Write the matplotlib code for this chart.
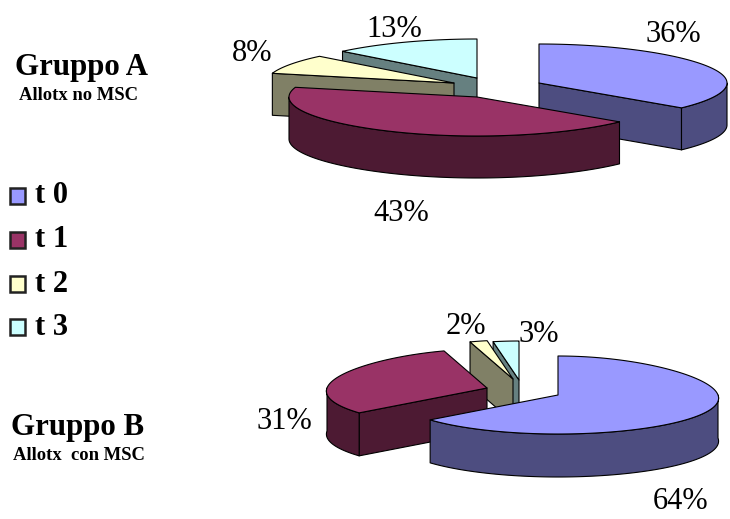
import numpy as np
import matplotlib
matplotlib.use("Agg")
import matplotlib.pyplot as plt
from matplotlib.patches import Polygon, Rectangle

plt.rcParams['font.family'] = ['Liberation Serif', 'DejaVu Serif']

# Percentages for each time point
categories = ["t 0", "t 1", "t 2", "t 3"]
gruppo_a = [36, 43, 8, 13]
gruppo_b = [64, 31, 2, 3]

top_colors = ["#9999FF", "#993366", "#FFFFCC", "#CCFFFF"]
side_colors = ["#4D4D80", "#4D1A33", "#808066", "#668080"]

# Screen placement of the two exploded pies (pixels, y grows downwards)
A_LAYOUT = dict(apex=[(539, 83), (477, 97), (454, 83), (477, 78)], rx=188, ry=39, depth=42,
                order=[3, 2, 0, 1], taper=(0.0, -0.04))
B_LAYOUT = dict(apex=[(558, 395), (487, 388), (513, 379), (519, 380)], rx=160, ry=39, depth=43,
                order=[3, 2, 1, 0], taper=(0.09, -0.05))
A_LABELS = [(673, 42), (401, 221), (252, 61), (394, 37)]
B_LABELS = [(681, 509), (284, 429), (466, 334), (539, 342)]


def rim_points(apex, theta, rx, ry, taper):
    """Rim positions for clockwise angles (degrees from 12 o'clock)."""
    t = np.radians(theta)
    u = -np.cos(t)
    scale = 1 + taper[0] * u + taper[1] * u ** 2
    return apex[0] + rx * np.sin(t) * scale, apex[1] + ry * u


def draw_pie(ax, values, layout, label_pos):
    total = sum(values)
    edges = np.concatenate([[0], np.cumsum(values)]) / total * 360
    rx, ry, depth, taper = layout["rx"], layout["ry"], layout["depth"], layout["taper"]
    style = dict(edgecolor="black", linewidth=0.8, joinstyle="round")

    for i in layout["order"]:
        a0, a1 = edges[i], edges[i + 1]
        apex = layout["apex"][i]

        # Cut walls that turn towards the viewer
        for ang, sign in ((a0, -1), (a1, 1)):
            x, y = rim_points(apex, np.array([ang]), rx, ry, taper)
            dx = x[0] - apex[0]
            if sign * dx > 1e-6:
                pts = [apex, (x[0], y[0]), (x[0], y[0] + depth), (apex[0], apex[1] + depth)]
                ax.add_patch(Polygon(pts, closed=True, facecolor=side_colors[i], **style))

        # Outer rim on the near half of the ellipse
        lo, hi = max(a0, 90), min(a1, 270)
        if hi > lo:
            th = np.linspace(lo, hi, 120)
            x, y = rim_points(apex, th, rx, ry, taper)
            pts = np.column_stack([np.r_[x, x[::-1]], np.r_[y, y[::-1] + depth]])
            ax.add_patch(Polygon(pts, closed=True, facecolor=side_colors[i], **style))

        # Top face
        th = np.linspace(a0, a1, 160)
        x, y = rim_points(apex, th, rx, ry, taper)
        pts = np.vstack([[apex], np.column_stack([x, y])])
        ax.add_patch(Polygon(pts, closed=True, facecolor=top_colors[i], **style))

    for v, (lx, ly) in zip(values, label_pos):
        ax.text(lx, ly, f"{v}%", fontsize=22, ha="center", va="baseline", color="black")


fig = plt.figure(figsize=(7.30, 5.19), dpi=100)
ax = fig.add_axes([0, 0, 1, 1])
ax.set_xlim(0, 730)
ax.set_ylim(519, 0)
ax.axis("off")

draw_pie(ax, gruppo_a, A_LAYOUT, A_LABELS)
draw_pie(ax, gruppo_b, B_LAYOUT, B_LABELS)

# Group headings
ax.text(15, 75, "Gruppo A", fontsize=22.2, fontweight="bold", va="baseline")
ax.text(19, 100, "Allotx no MSC", fontsize=13.4, fontweight="bold", va="baseline")
ax.text(11, 435, "Gruppo B", fontsize=22.2, fontweight="bold", va="baseline")
ax.text(13, 460, "Allotx  con MSC", fontsize=13.4, fontweight="bold", va="baseline")

# Legend
legend_y = [188, 232, 276, 319]
legend_base = [203, 247, 292, 335]
for name, col, sy, by in zip(categories, top_colors, legend_y, legend_base):
    ax.add_patch(Rectangle((9.5, sy), 15, 16, facecolor=col, edgecolor="#222222", linewidth=1.8))
    ax.text(35, by, name, fontsize=22, fontweight="bold", va="baseline")

fig.savefig("out.png", dpi=100)
